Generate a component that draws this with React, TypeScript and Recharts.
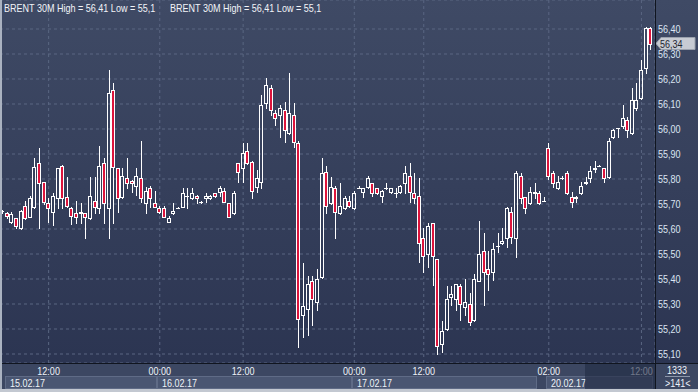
import { Bar, CartesianGrid, ComposedChart, ReferenceLine, XAxis, YAxis } from "recharts";

// BRENT 30M candles (141 bars)
const OPEN = [
  55.67, 55.663, 55.629, 55.643, 55.603, 55.692, 55.649, 55.689, 55.863, 55.789,
  55.703, 55.669, 55.723, 55.852, 55.729, 55.684, 55.663, 55.663, 55.663, 55.643,
  55.712, 55.683, 55.863, 55.683, 56.156, 55.843, 55.729, 55.803, 55.792, 55.772,
  55.803, 55.703, 55.763, 55.703, 55.683, 55.683, 55.629, 55.663, 55.685, 55.689,
  55.731, 55.723, 55.732, 55.709, 55.723, 55.723, 55.743, 55.749, 55.752, 55.703,
  55.663, 55.863, 55.843, 55.912, 55.869, 55.769, 55.789, 56.103, 56.163, 56.065,
  56.056, 56.076, 55.983, 56.056, 55.943, 55.256, 55.279, 55.392, 55.309, 55.409,
  55.829, 55.703, 55.763, 55.663, 55.683, 55.712, 55.683, 55.765, 55.749, 55.769,
  55.783, 55.763, 55.732, 55.763, 55.749, 55.743, 55.749, 55.783, 55.812, 55.743,
  55.732, 55.563, 55.499, 55.623, 55.479, 55.139, 55.199, 55.329, 55.319, 55.372,
  55.289, 55.299, 55.236, 55.392, 55.512, 55.439, 55.429, 55.53, 55.543, 55.563,
  55.669, 55.563, 55.812, 55.729, 55.703, 55.743, 55.743, 55.712, 55.923, 55.823,
  55.763, 55.803, 55.823, 55.729, 55.723, 55.743, 55.783, 55.803, 55.842, 55.852,
  55.843, 55.809, 55.969, 56.003, 56.012, 56.036, 55.983, 56.083, 56.123, 56.243,
  56.403,
];
const HIGH = [
  55.675, 55.668, 55.669, 55.645, 55.675, 55.712, 55.732, 55.883, 55.923, 55.79,
  55.724, 55.743, 55.845, 55.855, 55.809, 55.686, 55.712, 55.703, 55.665, 55.809,
  55.809, 55.932, 55.883, 56.236, 56.185, 55.845, 55.843, 55.883, 55.795, 55.843,
  55.952, 55.769, 55.772, 55.752, 55.692, 55.692, 55.652, 55.703, 55.686, 55.763,
  55.763, 55.763, 55.735, 55.712, 55.743, 55.735, 55.745, 55.772, 55.763, 55.705,
  55.752, 55.865, 55.943, 55.943, 55.872, 55.836, 56.136, 56.203, 56.176, 56.076,
  56.096, 56.109, 56.223, 56.103, 55.952, 55.463, 55.412, 55.412, 55.439, 55.883,
  55.852, 55.809, 55.772, 55.783, 55.732, 55.732, 55.752, 55.772, 55.765, 55.812,
  55.785, 55.765, 55.755, 55.785, 55.765, 55.763, 55.776, 55.852, 55.865, 55.823,
  55.803, 55.603, 55.623, 55.625, 55.48, 55.232, 55.372, 55.372, 55.38, 55.38,
  55.399, 55.343, 55.419, 55.632, 55.583, 55.512, 55.543, 55.583, 55.603, 55.689,
  55.689, 55.832, 55.823, 55.73, 55.769, 55.783, 55.752, 55.729, 55.943, 55.832,
  55.812, 55.812, 55.832, 55.749, 55.732, 55.789, 55.809, 55.852, 55.872, 55.855,
  55.845, 55.965, 56.0, 56.005, 56.096, 56.049, 56.163, 56.185, 56.276, 56.41,
  56.41,
];
const LOW = [
  55.665, 55.643, 55.625, 55.603, 55.6, 55.64, 55.649, 55.685, 55.603, 55.7,
  55.629, 55.616, 55.683, 55.683, 55.69, 55.62, 55.624, 55.624, 55.563, 55.64,
  55.663, 55.663, 55.623, 55.563, 55.623, 55.669, 55.724, 55.763, 55.749, 55.736,
  55.709, 55.663, 55.689, 55.687, 55.663, 55.647, 55.627, 55.661, 55.684, 55.687,
  55.683, 55.72, 55.703, 55.703, 55.709, 55.72, 55.73, 55.732, 55.707, 55.647,
  55.661, 55.789, 55.789, 55.86, 55.723, 55.749, 55.763, 56.083, 56.056, 56.016,
  55.969, 55.949, 55.98, 55.929, 55.129, 55.169, 55.176, 55.216, 55.276, 55.405,
  55.663, 55.7, 55.563, 55.66, 55.68, 55.69, 55.68, 55.763, 55.729, 55.765,
  55.732, 55.74, 55.709, 55.76, 55.745, 55.73, 55.745, 55.743, 55.709, 55.703,
  55.469, 55.429, 55.449, 55.376, 55.1, 55.109, 55.195, 55.296, 55.276, 55.236,
  55.256, 55.216, 55.232, 55.39, 55.296, 55.356, 55.396, 55.509, 55.54, 55.529,
  55.543, 55.489, 55.703, 55.663, 55.7, 55.723, 55.7, 55.71, 55.799, 55.769,
  55.76, 55.8, 55.74, 55.689, 55.709, 55.74, 55.78, 55.789, 55.829, 55.85,
  55.789, 55.805, 55.963, 55.969, 56.003, 55.969, 55.98, 56.076, 56.12, 56.223,
  56.319,
];
const CLOSE = [
  55.672, 55.652, 55.66, 55.612, 55.672, 55.643, 55.723, 55.849, 55.783, 55.709,
  55.683, 55.732, 55.843, 55.723, 55.692, 55.652, 55.649, 55.669, 55.649, 55.732,
  55.689, 55.852, 55.703, 56.143, 55.849, 55.723, 55.812, 55.783, 55.783, 55.812,
  55.723, 55.752, 55.723, 55.689, 55.669, 55.649, 55.643, 55.672, 55.685, 55.743,
  55.733, 55.743, 55.723, 55.709, 55.732, 55.732, 55.732, 55.763, 55.709, 55.649,
  55.743, 55.829, 55.903, 55.863, 55.752, 55.803, 56.096, 56.176, 56.076, 56.043,
  56.083, 55.996, 56.063, 55.949, 55.239, 55.292, 55.38, 55.319, 55.399, 55.823,
  55.692, 55.769, 55.669, 55.692, 55.723, 55.692, 55.743, 55.765, 55.763, 55.803,
  55.743, 55.743, 55.752, 55.764, 55.763, 55.743, 55.772, 55.823, 55.749, 55.723,
  55.543, 55.492, 55.612, 55.492, 55.132, 55.192, 55.319, 55.339, 55.379, 55.299,
  55.309, 55.229, 55.399, 55.499, 55.429, 55.419, 55.519, 55.533, 55.552, 55.683,
  55.569, 55.823, 55.723, 55.683, 55.749, 55.749, 55.703, 55.713, 55.812, 55.783,
  55.789, 55.803, 55.743, 55.709, 55.729, 55.772, 55.789, 55.832, 55.843, 55.853,
  55.803, 55.952, 55.996, 56.003, 56.043, 55.996, 56.116, 56.116, 56.236, 56.405,
  56.34,
];

const PRICE_TICKS = [
  55.1, 55.2, 55.3, 55.4, 55.5, 55.6, 55.7, 55.8, 55.9, 56.0, 56.1, 56.2, 56.3, 56.4,
];
const TIME_TICK_INDEX = [10, 34, 52, 76, 91, 118, 138];
const TIME_TICK_LABELS = ["12:00", "00:00", "12:00", "00:00", "12:00", "02:00", "12:00"];
const DAY_START_INDEX = [1, 34, 76, 118];
const DAY_END_INDEX = [34, 76, 116, 141];
const DAY_LABELS = ["15.02.17", "16.02.17", "17.02.17", "20.02.17"];
const LAST_PRICE = 56.34;
const TITLE = "BRENT 30M High = 56,41 Low = 55,1";
const BAR_COUNT = "1333";
const VISIBLE_COUNT = ">141<";

const data = OPEN.map((open, i) => ({
  i,
  open,
  high: HIGH[i],
  low: LOW[i],
  close: CLOSE[i],
}));

const W = 698;
const H = 389;
const AXIS_W = 43;
const PAD_RIGHT = 2;
const PLOT_W = W - AXIS_W;
const BAND = (PLOT_W - PAD_RIGHT) / data.length;
const FONT = "'Liberation Sans', Arial, sans-serif";
const NARROW = 0.82; // terminal font is a narrow sans

const fmtPrice = (v: number) => v.toFixed(2).replace(".", ",");

function NarrowText({ x, y, anchor = "start", fill, children }: any) {
  return (
    <text
      transform={`translate(${x},${y}) scale(${NARROW},1)`}
      textAnchor={anchor}
      fill={fill}
      fontSize={11}
      fontFamily={FONT}
    >
      {children}
    </text>
  );
}

function NarrowSpan({ children, style }: any) {
  return (
    <span
      style={{
        display: "inline-block",
        transform: `scaleX(${NARROW})`,
        transformOrigin: "left center",
        whiteSpace: "pre",
        ...style,
      }}
    >
      {children}
    </span>
  );
}

function renderCandle(props: any) {
  const { x, y, width, height, payload } = props;
  const { open, close, high, low } = payload;
  const top = Math.min(y, y + height);
  const h = Math.abs(height);
  const px = (v: number) => Math.round(top + ((high - v) / (high - low)) * h);
  const n = Math.floor(x + width / 2);
  const yHi = px(high);
  const yLo = px(low);
  const bTop = px(Math.max(open, close));
  const bBot = px(Math.min(open, close));
  const up = close >= open;

  return (
    <g>
      {bTop > yHi && <rect x={n} y={yHi} width={1} height={bTop - yHi} fill="#ffffff" />}
      {yLo > bBot && <rect x={n} y={bBot + 1} width={1} height={yLo - bBot} fill="#ffffff" />}
      {bBot === bTop ? (
        <rect x={n - 2} y={bTop} width={4} height={1} fill="#ffffff" />
      ) : (
        <rect
          x={n - 1.5}
          y={bTop + 0.5}
          width={3}
          height={bBot - bTop}
          fill={up ? "none" : "#dc143c"}
          stroke="#ffffff"
          strokeWidth={1}
        />
      )}
    </g>
  );
}

function TimeTick(props: any) {
  const { x, y, payload } = props;
  const k = TIME_TICK_INDEX.indexOf(payload.value);
  return (
    <NarrowText x={x} y={y + 11.5} anchor="middle" fill="#eef2f8">
      {TIME_TICK_LABELS[k]}
    </NarrowText>
  );
}

function DayTick(props: any) {
  const { x, y, payload } = props;
  const k = DAY_START_INDEX.indexOf(payload.value);
  const left = Math.round(x - BAND / 2);
  const right = Math.round(x - BAND / 2 + (DAY_END_INDEX[k] - payload.value) * BAND);
  return (
    <g>
      <rect
        x={left + 0.5}
        y={y + 0.5}
        width={right - left - 1}
        height={12}
        fill="#4a5672"
        stroke="#5f6b86"
      />
      <NarrowText x={left + 5} y={y + 10.5} fill="#eef2f8">
        {DAY_LABELS[k]}
      </NarrowText>
    </g>
  );
}

function PriceTick(props: any) {
  const { x, y, payload } = props;
  return (
    <NarrowText x={x} y={y + 4} fill="#dbe4f2">
      {fmtPrice(payload.value)}
    </NarrowText>
  );
}

function PriceTag(props: any) {
  const { viewBox } = props;
  const x0 = viewBox.x + viewBox.width + 1;
  const yc = Math.round(viewBox.y) - 0.5;
  return (
    <g>
      <polygon
        points={`${x0},${yc} ${x0 + 5},${yc - 6} ${x0 + 39},${yc - 6} ${x0 + 39},${yc + 6} ${x0 + 5},${yc + 6}`}
        fill="#c7cbd3"
        stroke="#9aa1ad"
      />
      <NarrowText x={x0 + 4} y={yc + 4} fill="#1e2430">
        {fmtPrice(LAST_PRICE)}
      </NarrowText>
    </g>
  );
}

export default function App() {
  return (
    <div
      style={{
        position: "relative",
        width: W,
        height: 392,
        overflow: "hidden",
        background: "linear-gradient(180deg, #3f4a65 0%, #2a3350 100%)",
        fontFamily: FONT,
      }}
    >
      <style>{"body{margin:0}"}</style>
      <div style={{ position: "absolute", left: 0, top: 363, width: W, height: 26, background: "#3c4762" }} />
      <ComposedChart
        width={W}
        height={H}
        data={data}
        margin={{ top: 0, right: 0, bottom: 0, left: 0 }}
        barCategoryGap={0}
        style={{ position: "absolute", left: 0, top: 0 }}
      >
        <CartesianGrid stroke="#5a6682" strokeDasharray="3 3" />
        <XAxis
          dataKey="i"
          type="category"
          ticks={TIME_TICK_INDEX}
          interval={0}
          tick={<TimeTick />}
          tickLine={false}
          axisLine={false}
          tickSize={0}
          tickMargin={0}
          height={13}
          padding={{ left: 0, right: PAD_RIGHT }}
        />
        <XAxis
          xAxisId="date"
          dataKey="i"
          type="category"
          ticks={DAY_START_INDEX}
          interval={0}
          tick={<DayTick />}
          tickLine={false}
          axisLine={false}
          tickSize={0}
          tickMargin={0}
          height={13}
          padding={{ left: 0, right: PAD_RIGHT }}
        />
        <YAxis
          orientation="right"
          type="number"
          width={AXIS_W}
          domain={[55.064, 56.516]}
          allowDataOverflow
          ticks={PRICE_TICKS}
          interval={0}
          tick={<PriceTick />}
          tickLine={false}
          axisLine={false}
          tickSize={0}
          tickMargin={3}
        />
        <Bar dataKey={(d: any) => [d.low, d.high]} shape={renderCandle} isAnimationActive={false} />
        <ReferenceLine y={LAST_PRICE} strokeOpacity={0} label={<PriceTag />} />
      </ComposedChart>
      {/* chrome: separators, dimmed scroller zone, counters */}
      <div style={{ position: "absolute", left: 585, top: 364, width: 70, height: 25, background: "rgba(34,43,68,0.62)" }} />
      <div style={{ position: "absolute", left: 655, top: 0, width: 1, height: 389, background: "#10151f" }} />
      <div style={{ position: "absolute", left: 0, top: 363, width: W, height: 1, background: "#10151f" }} />
      <div style={{ position: "absolute", left: 0, top: 0, width: 2, height: 392, background: "#aab2c0" }} />
      <div style={{ position: "absolute", left: 0, top: 389, width: W, height: 3, background: "#c3c8d1" }} />
      <div style={{ position: "absolute", left: 656, top: 364, width: 42, fontSize: 11, lineHeight: "12px", color: "#eef2f8" }}>
        <NarrowSpan style={{ position: "absolute", left: 11, top: 0 }}>{BAR_COUNT}</NarrowSpan>
        <div style={{ position: "absolute", left: 9, top: 12, width: 25, height: 1, background: "#8d97aa" }} />
        <NarrowSpan style={{ position: "absolute", left: 9, top: 13 }}>{VISIBLE_COUNT}</NarrowSpan>
      </div>
      <div style={{ position: "absolute", left: 4, top: 1, fontSize: 11, lineHeight: "14px", color: "#f2f4f8" }}>
        <NarrowSpan>{TITLE}</NarrowSpan>
      </div>
      <div style={{ position: "absolute", left: 170, top: 1, fontSize: 11, lineHeight: "14px", color: "#f2f4f8" }}>
        <NarrowSpan>{TITLE}</NarrowSpan>
      </div>
    </div>
  );
}
